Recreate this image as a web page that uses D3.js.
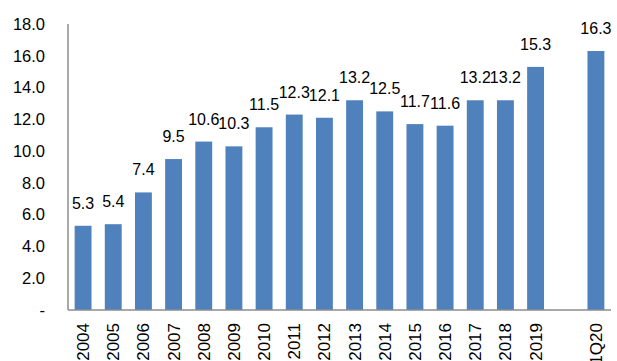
<!DOCTYPE html>
<html>
<head>
<meta charset="utf-8">
<script src="https://cdn.jsdelivr.net/npm/d3@7"></script>
<style>
  body { margin: 0; background: #fff; }
  svg { display: block; }
  text { font-family: "Liberation Sans", Arial, sans-serif; fill: #000; }
</style>
</head>
<body>
<svg id="chart"></svg>
<script>
// categories (blank slot between 2019 and 1Q20, as in the source)
var categories = ['2004', '2005', '2006', '2007', '2008', '2009', '2010', '2011',
    '2012', '2013', '2014', '2015', '2016', '2017', '2018', '2019', '', '1Q20'];
var values = [5.3, 5.4, 7.4, 9.5, 10.6, 10.3, 11.5, 12.3,
    12.1, 13.2, 12.5, 11.7, 11.6, 13.2, 13.2, 15.3, null, 16.3];
var yTicks = [0, 2, 4, 6, 8, 10, 12, 14, 16, 18];

(function () {
    var width = 617, height = 361;
    var plotLeft = 68, plotRight = 611, plotTop = 24, plotBottom = 310;

    var svg = d3.select('#chart')
        .attr('width', width)
        .attr('height', height);

    var scaleX = d3.scaleBand()
        .domain(d3.range(categories.length))
        .range([plotLeft, plotRight])
        .paddingInner(0.44)
        .paddingOuter(0.22);

    var scaleY = d3.scaleLinear()
        .domain([0, 18])
        .range([plotBottom, plotTop]);

    // y axis labels
    var yAxis = svg.append('g')
        .attr('transform', 'translate(' + plotLeft + ',0)')
        .call(d3.axisLeft(scaleY).tickValues(yTicks).tickSize(0).tickPadding(23)
            .tickFormat(function (d) { return d === 0 ? '-' : d.toFixed(1); }));
    yAxis.select('.domain').remove();
    yAxis.selectAll('text').attr('font-size', 16.5).attr('font-family', null);

    // bars
    var data = values.map(function (v, i) { return { i: i, v: v }; })
        .filter(function (d) { return d.v !== null; });

    svg.append('g').selectAll('rect')
        .data(data)
        .enter().append('rect')
        .attr('x', function (d) { return scaleX(d.i); })
        .attr('width', scaleX.bandwidth())
        .attr('y', function (d) { return scaleY(d.v); })
        .attr('height', function (d) { return scaleY(0) - scaleY(d.v); })
        .attr('fill', '#4f81bd');

    // value labels
    svg.append('g').selectAll('text')
        .data(data)
        .enter().append('text')
        .attr('x', function (d) { return scaleX(d.i) + scaleX.bandwidth() / 2; })
        .attr('y', function (d) { return scaleY(d.v) - 17; })
        .attr('text-anchor', 'middle')
        .attr('font-size', 16)
        .text(function (d) { return d.v.toFixed(1); });

    // axis lines
    svg.append('line')
        .attr('x1', plotLeft).attr('x2', plotLeft)
        .attr('y1', plotTop).attr('y2', plotBottom)
        .attr('stroke', '#8c8c8c').attr('stroke-width', 1.5);
    svg.append('line')
        .attr('x1', plotLeft).attr('x2', plotRight)
        .attr('y1', plotBottom).attr('y2', plotBottom)
        .attr('stroke', '#8c8c8c').attr('stroke-width', 1.5);

    // x labels, rotated
    var xAxis = svg.append('g')
        .attr('transform', 'translate(0,' + plotBottom + ')')
        .call(d3.axisBottom(scaleX).tickSize(0)
            .tickFormat(function (i) { return categories[i]; }));
    xAxis.select('.domain').remove();
    xAxis.selectAll('text')
        .attr('font-size', 17)
        .attr('font-family', null)
        .attr('text-anchor', 'end')
        .attr('dy', '0.35em')
        .attr('y', 0)
        .attr('x', null)
        .attr('transform', 'rotate(-90) translate(-13,0)');
})();
</script>
</body>
</html>
